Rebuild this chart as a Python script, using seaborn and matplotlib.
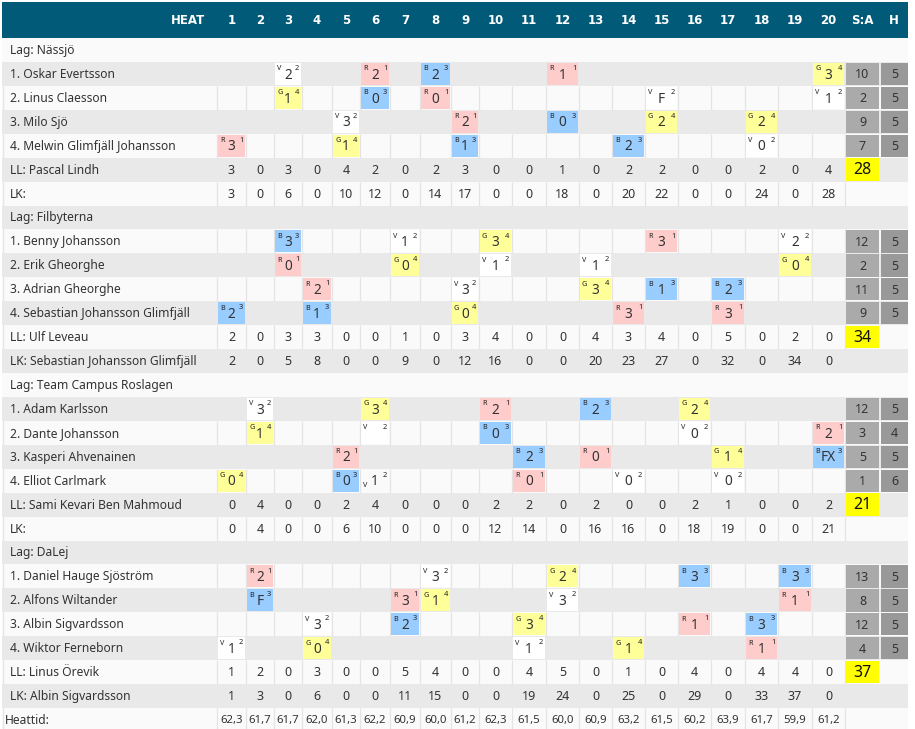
import matplotlib
matplotlib.use("Agg")
import matplotlib.pyplot as plt
from matplotlib.patches import Rectangle
import seaborn as sns

# ---------------- data ----------------
HEATS = [str(h) for h in range(1, 21)]
TEAMS = ["Nässjö", "Filbyterna", "Team Campus Roslagen", "DaLej"]

# rides: (heat, helmet colour, points, gate)
NASSJO_RIDERS = ["1. Oskar Evertsson", "2. Linus Claesson", "3. Milo Sjö", "4. Melwin Glimfjäll Johansson"]
NASSJO_RIDES = [
    [(3, "V", "2", 2), (6, "R", "2", 1), (8, "B", "2", 3), (12, "R", "1", 1), (20, "G", "3", 4)],
    [(3, "G", "1", 4), (6, "B", "0", 3), (8, "R", "0", 1), (15, "V", "F", 2), (20, "V", "1", 2)],
    [(5, "V", "3", 2), (9, "R", "2", 1), (12, "B", "0", 3), (15, "G", "2", 4), (18, "G", "2", 4)],
    [(1, "R", "3", 1), (5, "G", "1", 4), (9, "B", "1", 3), (14, "B", "2", 3), (18, "V", "0", 2)],
]
NASSJO_SA = [10, 2, 9, 7]
NASSJO_H = [5, 5, 5, 5]
NASSJO_LL_LABEL = "LL: Pascal Lindh"
NASSJO_LL = [3, 0, 3, 0, 4, 2, 0, 2, 3, 0, 0, 1, 0, 2, 2, 0, 0, 2, 0, 4]
NASSJO_LK_LABEL = "LK:"
NASSJO_LK = [3, 0, 6, 0, 10, 12, 0, 14, 17, 0, 0, 18, 0, 20, 22, 0, 0, 24, 0, 28]
NASSJO_TOTAL = 28

FILBY_RIDERS = ["1. Benny Johansson", "2. Erik Gheorghe", "3. Adrian Gheorghe", "4. Sebastian Johansson Glimfjäll"]
FILBY_RIDES = [
    [(3, "B", "3", 3), (7, "V", "1", 2), (10, "G", "3", 4), (15, "R", "3", 1), (19, "V", "2", 2)],
    [(3, "R", "0", 1), (7, "G", "0", 4), (10, "V", "1", 2), (13, "V", "1", 2), (19, "G", "0", 4)],
    [(4, "R", "2", 1), (9, "V", "3", 2), (13, "G", "3", 4), (15, "B", "1", 3), (17, "B", "2", 3)],
    [(1, "B", "2", 3), (4, "B", "1", 3), (9, "G", "0", 4), (14, "R", "3", 1), (17, "R", "3", 1)],
]
FILBY_SA = [12, 2, 11, 9]
FILBY_H = [5, 5, 5, 5]
FILBY_LL_LABEL = "LL: Ulf Leveau"
FILBY_LL = [2, 0, 3, 3, 0, 0, 1, 0, 3, 4, 0, 0, 4, 3, 4, 0, 5, 0, 2, 0]
FILBY_LK_LABEL = "LK: Sebastian Johansson Glimfjäll"
FILBY_LK = [2, 0, 5, 8, 0, 0, 9, 0, 12, 16, 0, 0, 20, 23, 27, 0, 32, 0, 34, 0]
FILBY_TOTAL = 34

CAMPUS_RIDERS = ["1. Adam Karlsson", "2. Dante Johansson", "3. Kasperi Ahvenainen", "4. Elliot Carlmark"]
CAMPUS_RIDES = [
    [(2, "V", "3", 2), (6, "G", "3", 4), (10, "R", "2", 1), (13, "B", "2", 3), (16, "G", "2", 4)],
    [(2, "G", "1", 4), (6, "V", "", 2), (10, "B", "0", 3), (16, "V", "0", 2), (20, "R", "2", 1)],
    [(5, "R", "2", 1), (11, "B", "2", 3), (13, "R", "0", 1), (17, "G", "1", 4), (20, "B", "FX", 3)],
    [(1, "G", "0", 4), (5, "B", "0", 3), (6, "v", "1", 2), (11, "R", "0", 1), (14, "V", "0", 2), (17, "V", "0", 2)],
]
CAMPUS_SA = [12, 3, 5, 1]
CAMPUS_H = [5, 4, 5, 6]
CAMPUS_LL_LABEL = "LL: Sami Kevari Ben Mahmoud"
CAMPUS_LL = [0, 4, 0, 0, 2, 4, 0, 0, 0, 2, 2, 0, 2, 0, 0, 2, 1, 0, 0, 2]
CAMPUS_LK_LABEL = "LK:"
CAMPUS_LK = [0, 4, 0, 0, 6, 10, 0, 0, 0, 12, 14, 0, 16, 16, 0, 18, 19, 0, 0, 21]
CAMPUS_TOTAL = 21

DALEJ_RIDERS = ["1. Daniel Hauge Sjöström", "2. Alfons Wiltander", "3. Albin Sigvardsson", "4. Wiktor Ferneborn"]
DALEJ_RIDES = [
    [(2, "R", "2", 1), (8, "V", "3", 2), (12, "G", "2", 4), (16, "B", "3", 3), (19, "B", "3", 3)],
    [(2, "B", "F", 3), (7, "R", "3", 1), (8, "G", "1", 4), (12, "V", "3", 2), (19, "R", "1", 1)],
    [(4, "V", "3", 2), (7, "B", "2", 3), (11, "G", "3", 4), (16, "R", "1", 1), (18, "B", "3", 3)],
    [(1, "V", "1", 2), (4, "G", "0", 4), (11, "V", "1", 2), (14, "G", "1", 4), (18, "R", "1", 1)],
]
DALEJ_SA = [13, 8, 12, 4]
DALEJ_H = [5, 5, 5, 5]
DALEJ_LL_LABEL = "LL: Linus Örevik"
DALEJ_LL = [1, 2, 0, 3, 0, 0, 5, 4, 0, 0, 4, 5, 0, 1, 0, 4, 0, 4, 4, 0]
DALEJ_LK_LABEL = "LK: Albin Sigvardsson"
DALEJ_LK = [1, 3, 0, 6, 0, 0, 11, 15, 0, 0, 19, 24, 0, 25, 0, 29, 0, 33, 37, 0]
DALEJ_TOTAL = 37

HEAT_TIMES = ["62,3", "61,7", "61,7", "62,0", "61,3", "62,2", "60,9", "60,0", "61,2", "62,3",
              "61,5", "60,0", "60,9", "63,2", "61,5", "60,2", "63,9", "61,7", "59,9", "61,2"]

BLOCKS = [
    (TEAMS[0], NASSJO_RIDERS, NASSJO_RIDES, NASSJO_SA, NASSJO_H, NASSJO_LL_LABEL, NASSJO_LL, NASSJO_LK_LABEL, NASSJO_LK, NASSJO_TOTAL),
    (TEAMS[1], FILBY_RIDERS, FILBY_RIDES, FILBY_SA, FILBY_H, FILBY_LL_LABEL, FILBY_LL, FILBY_LK_LABEL, FILBY_LK, FILBY_TOTAL),
    (TEAMS[2], CAMPUS_RIDERS, CAMPUS_RIDES, CAMPUS_SA, CAMPUS_H, CAMPUS_LL_LABEL, CAMPUS_LL, CAMPUS_LK_LABEL, CAMPUS_LK, CAMPUS_TOTAL),
    (TEAMS[3], DALEJ_RIDERS, DALEJ_RIDES, DALEJ_SA, DALEJ_H, DALEJ_LL_LABEL, DALEJ_LL, DALEJ_LK_LABEL, DALEJ_LK, DALEJ_TOTAL),
]

# ---------------- style / layout ----------------
sns.set_theme(style="white")
plt.rcParams['font.family'] = ['Noto Sans', 'DejaVu Sans']

HELMET_COLORS = {"R": "#ffcccc", "B": "#99ccff", "G": "#ffff99", "V": "#ffffff"}
HEADER_BG = "#005a78"
ROW_LIGHT = "#fafafa"
ROW_GRAY = "#e9e9e9"
GRID = "#e4e4e4"
TXT = "#333333"
SA_BG = "#aaaaaa"
H_BG = "#999999"
TOTAL_BG = "#ffff00"

LEFT, RIGHT = 2, 908
HEAD_TOP, ROW0, RH = 2, 38, 23.93
COL_EDGES = [217, 246, 274, 302, 332, 360, 390, 420, 451, 479, 512, 546, 579, 612,
             645, 678, 711, 745, 778, 812, 845]
SA_X = (845, 880)
H_X = (880, 908)
NAME_X = 9.5

fig = plt.figure(figsize=(9.15, 7.29), dpi=100)
ax = fig.add_axes([0, 0, 1, 1])
ax.set_xlim(0, 915)
ax.set_ylim(729, 0)
ax.axis("off")

HEAD_FONT = ['Liberation Sans Narrow', 'DejaVu Sans']


def row_top(i):
    return ROW0 + i * RH


def col_center(c):
    return 0.5 * (COL_EDGES[c] + COL_EDGES[c + 1])


# header
ax.add_patch(Rectangle((LEFT, HEAD_TOP), RIGHT - LEFT, ROW0 - HEAD_TOP, color=HEADER_BG, lw=0, zorder=1))
hy = 0.5 * (HEAD_TOP + ROW0)
ax.text(205, hy, "HEAT", ha="right", va="center", color="white", fontsize=8.5,
        fontweight="bold", family=HEAD_FONT, zorder=5)
for c, lab in enumerate(HEATS):
    ax.text(col_center(c), hy, lab, ha="center", va="center", color="white", fontsize=8.5,
            fontweight="bold", family=HEAD_FONT, zorder=5)
ax.text(0.5 * sum(SA_X), hy, "S:A", ha="center", va="center", color="white", fontsize=8.5,
        fontweight="bold", family=HEAD_FONT, zorder=5)
ax.text(0.5 * sum(H_X), hy, "H", ha="center", va="center", color="white", fontsize=8.5,
        fontweight="bold", family=HEAD_FONT, zorder=5)


def row_bg(i):
    return ROW_LIGHT if i % 2 == 0 else ROW_GRAY


def draw_row_bg(i, grid=True):
    t = row_top(i)
    ax.add_patch(Rectangle((LEFT, t), RIGHT - LEFT, RH, color=row_bg(i), lw=0, zorder=1))
    if grid and i % 2 == 0:
        for x in [LEFT + 0.5] + COL_EDGES:
            ax.plot([x, x], [t, t + RH], color=GRID, lw=0.9, zorder=2, solid_capstyle="butt")


def name_text(i, s, x=NAME_X):
    ax.text(x, row_top(i) + RH / 2 + 0.5, s, ha="left", va="center", color=TXT, fontsize=8.7, zorder=5)


def value_row(i, vals, fs=9.0):
    for c, v in enumerate(vals):
        ax.text(col_center(c), row_top(i) + RH / 2 + 0.5, str(v), ha="center", va="center",
                color=TXT, fontsize=fs, zorder=5)


for b, (team, riders, rides, sa, hh, ll_lab, ll, lk_lab, lk, total) in enumerate(BLOCKS):
    base = 7 * b
    draw_row_bg(base, grid=False)
    name_text(base, "Lag: " + team)
    for r in range(4):
        i = base + 1 + r
        draw_row_bg(i)
        name_text(i, riders[r])
        t = row_top(i)
        for (heat, hel, pts, gate) in rides[r]:
            c = heat - 1
            x0, x1 = COL_EDGES[c], COL_EDGES[c + 1]
            low = hel.islower()
            H = hel.upper()
            if not low:
                ax.add_patch(Rectangle((x0 + 0.8, t + 1.0), x1 - x0 - 1.6, RH - 2.0,
                                       color=HELMET_COLORS[H], lw=0, zorder=3))
            ly = t + 16.5 if low else t + 6.8
            ax.text(x0 + 3, ly, H, ha="left", va="center", fontsize=5.2, fontweight="bold",
                    color="#222222", zorder=5)
            ax.text(x1 - 2.8, t + 6.6, str(gate), ha="right", va="center", fontsize=5.4,
                    fontweight="bold", color="#222222", zorder=5)
            ax.text(0.5 * (x0 + x1), t + RH / 2 + 1.2, pts, ha="center", va="center",
                    fontsize=9.8, color=TXT, zorder=5)
        # S:A and H
        ax.add_patch(Rectangle((SA_X[0] + 1, t + 0.8), SA_X[1] - SA_X[0] - 1.6, RH - 1.6,
                               color=SA_BG, lw=0, zorder=3))
        ax.add_patch(Rectangle((H_X[0] + 1, t + 0.8), H_X[1] - H_X[0] - 1.0, RH - 1.6,
                               color=H_BG, lw=0, zorder=3))
        ax.text(0.5 * sum(SA_X), t + RH / 2 + 0.8, str(sa[r]), ha="center", va="center",
                fontsize=9.0, color=TXT, zorder=5)
        ax.text(0.5 * sum(H_X) + 0.5, t + RH / 2 + 0.8, str(hh[r]), ha="center", va="center",
                fontsize=9.0, color=TXT, zorder=5)
    # LL row
    i = base + 5
    draw_row_bg(i)
    name_text(i, ll_lab)
    value_row(i, ll)
    t = row_top(i)
    ax.add_patch(Rectangle((SA_X[0] + 1, t + 0.8), SA_X[1] - SA_X[0] - 1.6, RH - 1.6,
                           color=TOTAL_BG, lw=0, zorder=3))
    ax.text(0.5 * sum(SA_X), t + RH / 2 + 0.5, str(total), ha="center", va="center",
            fontsize=11.5, fontweight="bold", color="#111111", zorder=5)
    # LK row
    i = base + 6
    draw_row_bg(i)
    name_text(i, lk_lab)
    value_row(i, lk)

# heat time row
i = 28
draw_row_bg(i)
name_text(i, "Heattid:", x=5)
value_row(i, HEAT_TIMES, fs=8.2)
yb = row_top(i) + RH
ax.plot([LEFT, RIGHT], [yb, yb], color="#dcdcdc", lw=1.2, zorder=2)

fig.savefig("out.png", dpi=100, facecolor="white")
